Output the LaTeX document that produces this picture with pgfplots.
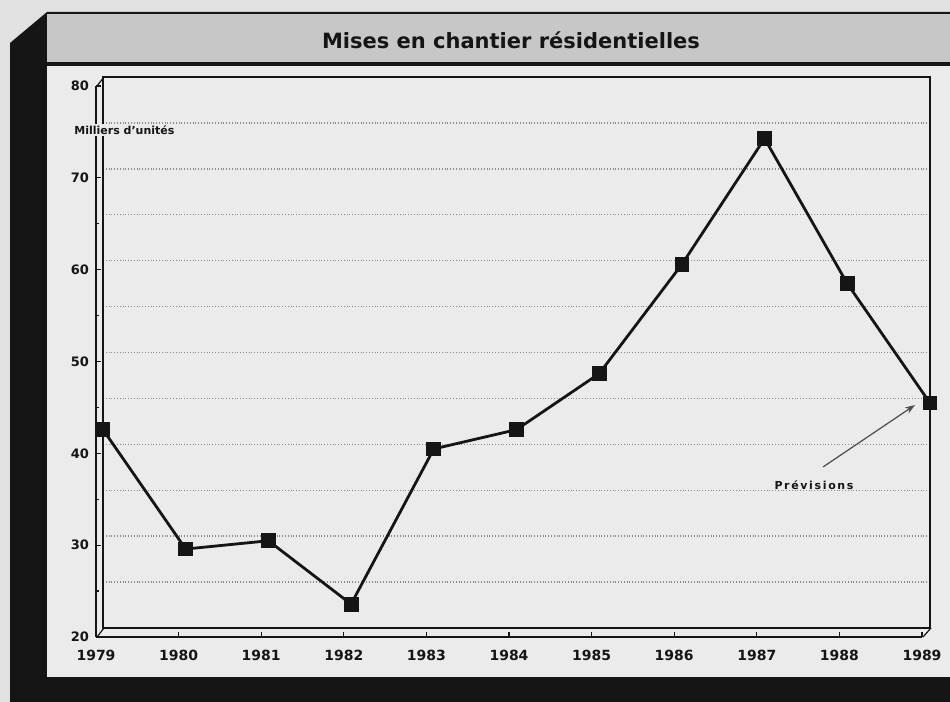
\documentclass[border=0pt]{standalone}
\usepackage{fontspec}
\setmainfont{DejaVu Sans}
\usepackage{pgfplots}
\pgfplotsset{compat=1.18}
\usetikzlibrary{arrows.meta}
\definecolor{pagebg}{HTML}{E1E1E1}
\definecolor{banner}{HTML}{C7C7C7}
\definecolor{panel}{HTML}{EBEBEB}
\definecolor{ink}{HTML}{151515}

\begin{document}
\begin{tikzpicture}[x=0.5pt,y=0.5pt]
% page, shadow, banner, panel (units: pixels of the reference)
\path[use as bounding box, fill=pagebg] (0,0) rectangle (950,702);
\fill[ink] (10,0) -- (10,659) -- (47,690) -- (950,690) -- (950,0) -- cycle;
\fill[banner] (47,638) rectangle (950,689);
\draw[ink, line width=1pt] (47,689) -- (950,689);
\fill[panel] (47,25) rectangle (950,637);
\draw[ink, line width=1.6pt] (47,638) -- (950,638);
\node[font=\bfseries\fontsize{10.5}{12}\selectfont, text=ink] at (511,662) {Mises en chantier résidentielles};

% back wall with the data
\begin{axis}[
    at={(51.5pt,37pt)}, anchor=south west,
    scale only axis, width=413.5pt, height=275.5pt,
    xmin=1979, xmax=1989, ymin=20, ymax=80,
    axis line style={ink, line width=0.6pt},
    xtick=\empty,
    ytick={25,30,...,75}, yticklabels={},
    major tick length=0pt,
    ymajorgrids, grid style={densely dotted, gray!90, line width=0.7pt},
    clip=false,
  ]
  \addplot[ink, line width=1.4pt, mark=square*, mark size=3pt] coordinates {
    (1979, 41.6)
    (1980, 28.6)
    (1981, 29.5)
    (1982, 22.6)
    (1983, 39.5)
    (1984, 41.6)
    (1985, 47.7)
    (1986, 59.6)
    (1987, 73.3)
    (1988, 57.5)
    (1989, 44.5)
  };
\end{axis}

% front axes with ticks and labels
\begin{axis}[
    at={(48pt,32.5pt)}, anchor=south west,
    scale only axis, width=413pt, height=275.5pt,
    xmin=1979, xmax=1989, ymin=20, ymax=80,
    axis x line=bottom, axis y line=left,
    axis line style={ink, line width=0.6pt, -},
    xtick={1979,1980,...,1989}, ytick={20,30,...,80},
    minor x tick num=1, minor y tick num=1,
    tick align=inside, major tick length=2.5pt, minor tick length=1.5pt,
    tick style={ink, line width=0.6pt},
    /pgf/number format/assume math mode=true,
    xticklabel style={font=\bfseries\fontsize{7}{8}\selectfont, text=ink, yshift=-3pt,
      /pgf/number format/1000 sep={}},
    yticklabel style={font=\bfseries\fontsize{6.5}{8}\selectfont, text=ink},
  ]
\end{axis}

% 3D edges
\draw[ink, line width=0.6pt] (97,616) -- (104,625);
\draw[ink, line width=0.6pt] (97,65) -- (104,74);
\draw[ink, line width=0.6pt] (923,65) -- (931,74);

\node[anchor=west, fill=panel, inner sep=1pt, font=\bfseries\fontsize{5.5}{7}\selectfont, text=ink] at (72,572) {Milliers d'unités};
\draw[gray!60!black, line width=0.6pt, -{Stealth[length=5pt,width=3.5pt]}] (823,235) -- (915,297);
\node[font=\bfseries\fontsize{5.5}{7}\selectfont\addfontfeature{LetterSpace=15}, text=ink] at (814,217) {Prévisions};
\end{tikzpicture}
\end{document}
